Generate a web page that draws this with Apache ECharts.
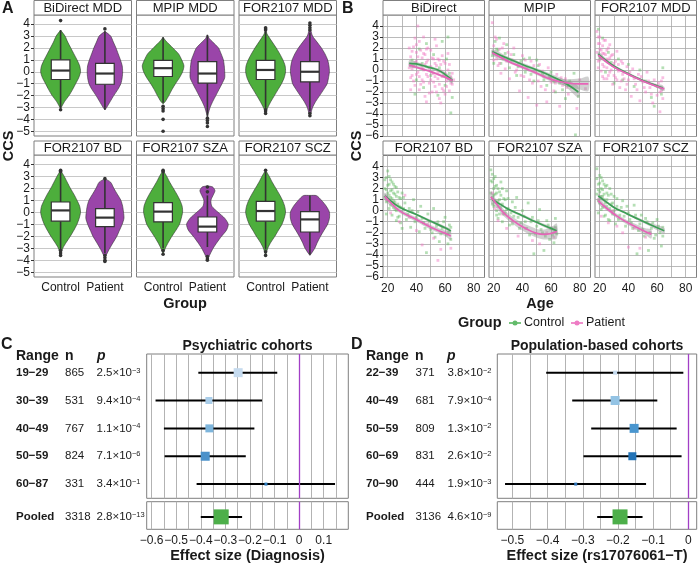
<!DOCTYPE html>
<html><head><meta charset="utf-8">
<script src="https://cdn.jsdelivr.net/npm/echarts@6/dist/echarts.min.js"></script>
<style>html,body{margin:0;padding:0;background:#fff}#c{width:698px;height:564px}</style>
</head><body><div id="c"></div>
<script>
const FONT = '"Liberation Sans", Arial, sans-serif';

// ---------- DATA ----------
const groups = ['Control', 'Patient'];
const panelsA = ['BiDirect MDD', 'MPIP MDD', 'FOR2107 MDD', 'FOR2107 BD', 'FOR2107 SZA', 'FOR2107 SCZ'];
const panelsB = ['BiDirect', 'MPIP', 'FOR2107 MDD', 'FOR2107 BD', 'FOR2107 SZA', 'FOR2107 SCZ'];
const yTicksA = [-5, -4, -3, -2, -1, 0, 1, 2, 3, 4];
const yTicksB = [-6, -5, -4, -3, -2, -1, 0, 1, 2, 3, 4];
const yLabelsBEven = [-6, -4, -2, 0, 2, 4];
const yLabelsBOdd = [-5, -3, -1, 1, 3];
const xTicksB = [20, 40, 60, 80];
const xGridB = [20, 30, 40, 50, 60, 70, 80];
const xTicksC = [-0.6, -0.5, -0.4, -0.3, -0.2, -0.1, 0, 0.1];
const xGridC = [-0.6, -0.55, -0.5, -0.45, -0.4, -0.35, -0.3, -0.25, -0.2, -0.15, -0.1, -0.05, 0, 0.05, 0.1, 0.15];
const xTicksD = [-0.5, -0.4, -0.3, -0.2, -0.1, 0];
const xGridD = [-0.5, -0.45, -0.4, -0.35, -0.3, -0.25, -0.2, -0.15, -0.1, -0.05, 0];

// violin density profiles: [CCS, half-width]
const violinControl = [
  [[3.5,0],[3,0.1],[2.5,0.16],[2,0.23],[1.5,0.3],[1,0.37],[0.5,0.43],[0,0.45],[-0.5,0.41],[-1,0.34],[-1.5,0.27],[-2,0.19],[-2.5,0.09],[-3.1,0]],
  [[2.9,0],[2.6,0.06],[2,0.22],[1.5,0.35],[1,0.42],[0.5,0.47],[0,0.44],[-0.5,0.37],[-1,0.28],[-1.5,0.2],[-2,0.13],[-2.5,0.05],[-2.7,0]],
  [[3.6,0],[3.2,0.03],[3,0.06],[2.5,0.15],[2,0.24],[1.5,0.32],[1,0.39],[0.5,0.44],[0,0.45],[-0.5,0.42],[-1,0.36],[-1.5,0.28],[-2,0.2],[-2.5,0.12],[-3,0.05],[-3.4,0]],
  [[3.5,0],[3,0.08],[2.5,0.15],[2,0.22],[1.5,0.3],[1,0.37],[0.5,0.43],[0,0.45],[-0.5,0.42],[-1,0.37],[-1.5,0.3],[-2,0.22],[-2.5,0.13],[-3,0.05],[-3.6,0]],
  [[3.5,0],[3,0.08],[2.5,0.15],[2,0.23],[1.5,0.31],[1,0.38],[0.5,0.43],[0,0.44],[-0.5,0.41],[-1,0.37],[-1.5,0.29],[-2,0.2],[-2.5,0.12],[-3,0.05],[-3.5,0]],
  [[3.5,0],[3,0.08],[2.5,0.15],[2,0.23],[1.5,0.31],[1,0.38],[0.5,0.43],[0,0.45],[-0.5,0.42],[-1,0.37],[-1.5,0.29],[-2,0.21],[-2.5,0.12],[-3,0.05],[-3.6,0]]
];
const violinPatient = [
  [[3.4,0],[3,0.13],[2.5,0.19],[2,0.25],[1.5,0.3],[1,0.35],[0.5,0.39],[0,0.4],[-0.5,0.39],[-1,0.36],[-1.5,0.29],[-2,0.2],[-2.5,0.12],[-3,0.04],[-3.2,0]],
  [[3.1,0],[2.8,0.04],[2.5,0.12],[2,0.25],[1.5,0.31],[1,0.36],[0.5,0.38],[0,0.39],[-0.5,0.39],[-1,0.33],[-1.5,0.26],[-2,0.19],[-2.5,0.12],[-3,0.06],[-3.5,0.02],[-3.8,0]],
  [[4.0,0],[3.5,0.02],[3,0.06],[2.5,0.16],[2,0.26],[1.5,0.34],[1,0.4],[0.5,0.43],[0,0.44],[-0.5,0.42],[-1,0.39],[-1.5,0.31],[-2,0.22],[-2.5,0.13],[-3,0.06],[-3.5,0.02],[-3.7,0]],
  [[2.8,0],[2.5,0.13],[2,0.2],[1.5,0.28],[1,0.36],[0.5,0.4],[0,0.42],[-0.5,0.43],[-1,0.39],[-1.5,0.33],[-2,0.27],[-2.5,0.19],[-3,0.11],[-3.5,0.04],[-3.8,0]],
  [[2.2,0],[2.1,0.12],[1.8,0.17],[1.5,0.14],[1,0.08],[0.5,0.1],[0,0.24],[-0.5,0.39],[-1,0.47],[-1.5,0.43],[-2,0.32],[-2.5,0.22],[-3,0.13],[-3.5,0.06],[-4.0,0]],
  [[1.4,0],[1.38,0.15],[1,0.26],[0.5,0.37],[0,0.44],[-0.5,0.44],[-1,0.4],[-1.5,0.32],[-2,0.24],[-2.5,0.17],[-3,0.11],[-3.4,0.04],[-3.6,0]]
];
// box stats: [lower whisker, Q1, median, Q3, upper whisker]
const boxControl = [[-3.1,-0.65,0.1,1.0,3.5],[-2.6,-0.4,0.3,0.95,2.9],[-3.1,-0.65,0.15,0.95,3.4],[-3.1,-0.75,0.15,0.85,3.3],[-3.0,-0.8,0.05,0.8,3.3],[-3.1,-0.75,0.1,0.9,3.4]];
const boxPatient = [[-3.2,-1.05,-0.15,0.7,3.4],[-3.7,-0.95,-0.15,0.85,3.1],[-3.3,-0.85,0.0,0.85,3.3],[-3.4,-1.2,-0.45,0.3,2.7],[-2.9,-1.65,-1.2,-0.4,1.4],[-3.55,-1.65,-0.6,0.05,1.4]];
const outlierControl = [[4.3,-3.2],[-2.9,-3.1,-3.3,-4.0,-5.0],[3.5,3.6,3.7,-3.2,-3.3,-3.5],[3.4,3.5,-3.2,-3.4,-3.6],[3.4,3.5,-3.2,-3.5],[3.5,-3.3,-3.6]];
const outlierPatient = [[3.6],[-3.9,-4.1,-4.3,-4.6],[3.5,3.7,3.9,4.1,-3.5,-3.7],[2.8,-3.6,-3.8,-4.0,-4.1],[1.7,2.1,-3.7,-3.9,-4.0],[]];

// panel B: [age, CCS] points (estimated clouds)
const scatterControl = [
  [[37,0.9],[40,-0.9],[42,1.9],[45,-1.6],[47,2.4],[50,-0.5],[52,1.4],[55,-2.3],[58,2.6],[60,-1.4],[62,3.0],[63,-0.3],[64,-3.9],[65,-2.5],[61,1.0],[56,0.2],[44,0.6],[39,-2.2]],
  [[19,1.3],[21,2.6],[23,1.8],[25,0.6],[27,1.0],[29,2.3],[31,0.2],[34,1.4],[36,-0.5],[39,0.8],[42,-0.2],[45,1.1],[48,-1.0],[51,0.4],[54,-0.4],[57,-1.4],[60,-0.2],[63,-2.0],[66,-1.2],[70,-2.6],[73,-1.0],[77,-5.9],[79,-2.4],[76,-0.3],
   [20,0.6],[22,1.9],[24,2.9],[28,1.5],[32,0.9],[37,0.3],[41,1.0],[46,-0.4],[50,0.9],[55,-0.9],[59,-0.7],[62,-1.1],[68,-1.8],[72,-1.4]],
  [[19,3.7],[20,1.0],[22,2.9],[24,-0.2],[26,1.6],[28,0.7],[30,-1.2],[33,1.0],[36,-0.9],[40,0.5],[44,-1.5],[48,0.0],[52,-1.0],[56,-2.5],[60,-1.5],[63,-2.2],[64,0.2],[58,-3.3]],
  [[18,2.0],[19,3.0],[19,0.8],[20,1.6],[20,3.6],[21,2.4],[21,0.2],[22,1.2],[22,2.8],[23,-0.4],[23,1.9],[24,0.9],[24,2.4],[25,0.1],[25,1.5],[26,-0.9],[26,2.1],[27,0.6],[28,1.2],[28,-0.5],[29,0.3],[30,1.6],[30,-1.6],[32,0.7],[33,-0.8],[35,0.2],[36,-1.5],[38,1.0],[40,-0.6],[42,-1.9],[43,0.4],[45,-1.1],[47,-3.8],[48,-0.3],[50,-1.7],[52,0.2],[53,-2.4],[55,-1.0],[56,-2.8],[58,-1.6],[60,-0.6],[61,-2.2],[62,-3.0],[63,-1.3],[64,-2.6],
   [18,1.2],[18,2.8],[19,1.9],[19,-0.3],[20,2.3],[20,0.9],[21,1.4],[21,3.1],[22,0.5],[22,1.8],[23,1.1],[23,2.6],[24,0.3],[24,1.6],[25,0.8],[25,2.2],[26,1.3],[26,0.0],[27,1.7],[27,-0.6],[28,0.4],[29,1.1],[29,-1.1],[31,0.2],[31,1.2],[34,-0.3],[37,0.0],[39,-1.0],[41,-0.1],[44,-0.7],[46,-1.6],[49,-1.0],[51,-2.0],[54,-1.4],[57,-2.1],[59,-1.0],[62,-2.0],[64,-1.5]],
  [[18,3.7],[19,2.6],[19,1.2],[20,0.4],[20,2.0],[21,3.1],[21,1.5],[22,0.0],[22,2.3],[23,0.9],[23,-0.7],[24,1.7],[25,0.3],[25,2.6],[26,-1.0],[27,1.1],[28,-0.2],[29,1.8],[30,0.2],[31,-1.3],[33,0.8],[34,-0.5],[36,1.2],[38,-1.6],[40,0.0],[42,-1.0],[44,0.7],[45,-2.2],[47,-0.6],[48,-3.9],[50,-1.4],[52,0.1],[54,-2.0],[55,-3.6],[57,-0.9],[59,-2.6],[60,-1.6],[62,-2.9],[63,-0.7],[64,-2.1],
   [18,1.6],[18,2.7],[19,0.6],[19,3.3],[20,1.4],[20,2.9],[21,0.8],[21,2.2],[22,1.6],[22,-0.4],[23,2.0],[23,0.4],[24,1.0],[24,-0.3],[25,1.4],[26,0.6],[26,2.0],[27,-0.3],[28,1.0],[29,0.1],[30,1.1],[32,-0.2],[33,-1.2],[35,0.3],[37,-0.6],[39,-1.1],[41,-0.5],[43,-1.6],[46,-1.0],[49,-2.1],[51,-0.9],[53,-1.7],[56,-2.3],[58,-1.3],[61,-2.2],[63,-1.5]],
  [[18,3.8],[19,2.4],[19,0.9],[20,1.7],[20,3.2],[21,0.1],[21,2.0],[22,1.3],[22,2.7],[23,-0.5],[23,1.0],[24,2.2],[25,0.4],[25,1.6],[26,-0.8],[27,2.0],[28,0.6],[29,-0.3],[30,1.3],[31,-1.2],[32,0.4],[34,-0.4],[36,0.9],[38,-1.4],[40,-0.2],[42,-1.1],[44,0.5],[46,-3.9],[47,-1.8],[49,-0.4],[51,-2.3],[53,-1.0],[54,-3.6],[56,-1.6],[58,-2.5],[60,-0.8],[62,-2.0],[63,-3.2],[64,-1.5],
   [18,1.5],[18,2.9],[19,1.9],[19,-0.2],[20,0.7],[20,2.5],[21,1.3],[21,3.0],[22,0.3],[22,1.9],[23,2.4],[23,1.5],[24,0.7],[24,-0.4],[25,2.3],[25,1.0],[26,1.4],[27,0.2],[27,-0.9],[28,1.5],[29,0.7],[30,0.0],[32,1.1],[33,-0.8],[35,0.3],[37,-0.5],[39,0.4],[41,-0.8],[43,-1.6],[45,-0.4],[48,-1.2],[50,-1.7],[52,-0.7],[55,-2.0],[57,-1.1],[59,-2.2],[61,-1.4],[64,-2.3]]
];
const scatterPatient = [
  [[36,1.2],[37,-0.5],[38,2.1],[38,0.3],[39,-1.4],[40,1.6],[40,0.8],[41,-0.2],[42,2.6],[42,-1.8],[43,0.5],[44,1.1],[44,-0.9],[45,3.0],[45,0.0],[46,-2.4],[46,1.4],[47,0.7],[48,-0.6],[48,2.0],[49,-1.2],[50,0.3],[50,1.8],[51,-2.0],[52,-0.3],[52,1.0],[53,-1.5],[54,0.4],[54,2.2],[55,-0.8],[56,-2.6],[56,0.9],[57,-0.1],[58,-1.7],[58,1.3],[59,-0.5],[60,-2.2],[60,0.6],[61,-1.0],[62,0.0],[63,-1.9],[64,-0.6],[65,-1.3],[36,-1.8],[39,2.9],[41,4.0],[47,-2.9],[53,2.8],[57,-3.0],[62,1.5],
   [35,0.2],[35,2.0],[36,-0.7],[37,1.7],[37,0.1],[38,-1.0],[39,0.7],[40,-0.4],[40,2.3],[41,1.2],[42,-0.6],[43,1.8],[43,-1.3],[44,0.2],[45,1.5],[45,-1.1],[46,0.5],[47,-0.4],[47,1.9],[48,0.9],[49,0.1],[49,-2.1],[50,-0.9],[51,1.1],[51,-0.3],[52,-1.1],[53,0.6],[53,-0.6],[54,-2.0],[55,1.0],[55,-0.2],[56,-1.3],[57,0.5],[58,-0.6],[59,0.8],[59,-1.9],[60,-0.3],[61,-1.5],[62,-0.8],[63,0.5],[64,-1.2],[65,-0.3],[66,-0.9]],
  [[19,4.3],[20,2.2],[20,0.9],[21,1.5],[22,2.8],[23,0.4],[24,1.9],[25,-0.3],[26,1.2],[27,2.4],[28,0.1],[30,1.6],[31,-0.8],[33,0.9],[34,2.0],[35,-0.2],[37,0.6],[38,-1.9],[40,1.3],[41,-0.6],[43,0.2],[44,-2.5],[46,0.8],[47,-1.2],[49,-0.1],[50,-3.2],[52,0.5],[53,-1.5],[55,-0.6],[57,-2.9],[58,0.2],[60,-1.1],[62,-1.9],[64,-0.4],[66,-3.3],[68,-1.4],[70,-0.8],[72,-2.2],[74,-1.6],[78,-3.5],[80,-0.9],[84,-1.7],
   [21,3.0],[22,1.0],[24,0.6],[26,2.0],[29,0.8],[32,1.4],[36,0.0],[39,-0.5],[42,0.9],[45,-0.9],[48,0.4],[51,-1.0],[54,-0.1],[56,-1.8],[59,-0.6],[63,-1.2],[67,-0.7],[71,-1.6]],
  [[18,3.5],[19,2.4],[19,0.8],[20,1.9],[20,3.0],[21,1.2],[21,-0.1],[22,2.2],[22,0.5],[23,1.5],[23,-0.8],[24,2.7],[24,0.9],[25,0.2],[25,1.8],[26,-0.5],[27,1.1],[27,2.3],[28,0.0],[29,-1.3],[29,1.4],[30,0.6],[31,-0.7],[32,1.7],[33,-0.1],[34,-1.6],[35,0.8],[36,-0.4],[38,-1.8],[39,0.3],[40,-0.9],[42,-2.4],[43,0.1],[45,-1.3],[47,-0.4],[48,-2.8],[50,-1.1],[52,-2.0],[53,-0.2],[55,-1.6],[57,-3.0],[58,-0.9],[60,-2.3],[61,-1.2],[62,-3.8],[63,-1.9],[64,-0.7],[64,-2.6],
   [18,1.6],[19,0.2],[19,3.0],[20,0.9],[20,2.4],[21,1.8],[22,-0.6],[22,1.5],[23,0.3],[23,2.7],[24,1.4],[25,-0.8],[25,1.0],[26,0.9],[26,2.0],[27,-0.2],[28,1.3],[29,0.4],[30,-0.5],[31,0.8],[32,-0.9],[33,0.5],[35,-1.0],[36,0.6],[37,-0.8],[39,-1.3],[41,-0.2],[44,-0.8],[46,-1.8],[49,-0.6],[51,-1.6],[54,-1.0],[56,-2.2],[59,-1.4],[62,-2.0],[63,-1.0]],
  [[19,1.0],[22,-0.2],[25,0.6],[28,-1.0],[32,1.4],[35,-0.6],[40,-1.8],[44,-3.1],[48,-1.2],[52,-2.5],[55,-4.5],[57,-3.5],[60,-2.0],[64,-3.4]],
  [[19,1.6],[21,0.2],[23,-0.9],[26,-0.3],[29,-1.6],[33,-1.0],[37,-2.3],[42,-1.6],[47,-2.7],[52,-3.0],[57,-2.0],[62,-2.4]],
  [[19,1.0],[21,-0.5],[23,0.4],[26,-1.1],[29,0.0],[32,-1.4],[36,-2.0],[40,-3.3],[44,-1.6],[48,-3.4],[52,-2.4],[55,-2.0]]
];
// fitted trends: [age, fit, band half-width]
const trendControl = [
  [[35,0.6,0.3],[40,0.55,0.2],[45,0.38,0.15],[50,0.2,0.15],[55,0.0,0.15],[60,-0.4,0.2],[65,-0.95,0.3]],
  [[19,1.65,0.25],[30,1.05,0.15],[40,0.5,0.15],[50,0.0,0.15],[60,-0.55,0.2],[70,-1.2,0.3],[79,-2.0,0.5]],
  [[19,1.45,0.25],[25,0.8,0.15],[30,0.35,0.12],[40,-0.35,0.12],[50,-0.95,0.12],[60,-1.45,0.15],[64,-1.65,0.25]],
  [[18,1.35,0.2],[25,0.6,0.1],[30,0.2,0.1],[40,-0.35,0.1],[50,-0.95,0.12],[60,-1.55,0.15],[64,-1.85,0.2]],
  [[19,1.0,0.2],[25,0.55,0.12],[30,0.15,0.1],[40,-0.45,0.12],[50,-1.05,0.12],[60,-1.6,0.2],[64,-1.82,0.3]],
  [[19,1.35,0.2],[25,0.75,0.12],[30,0.3,0.1],[37,-0.15,0.1],[45,-0.65,0.12],[55,-1.25,0.15],[65,-1.82,0.25]]
];
const trendPatient = [
  [[35,0.45,0.2],[40,0.25,0.12],[45,0.05,0.1],[50,-0.15,0.1],[55,-0.4,0.1],[60,-0.65,0.12],[65,-0.95,0.2]],
  [[19,1.57,0.25],[30,0.8,0.15],[40,0.25,0.15],[50,-0.3,0.15],[60,-0.85,0.2],[70,-1.15,0.3],[80,-1.27,0.5],[86,-1.27,0.65]],
  [[19,1.35,0.2],[25,0.7,0.12],[30,0.25,0.1],[40,-0.4,0.1],[50,-1.0,0.1],[60,-1.5,0.12],[65,-1.72,0.2]],
  [[18,1.3,0.35],[25,0.35,0.2],[30,-0.15,0.2],[40,-0.8,0.2],[50,-1.5,0.2],[60,-2.05,0.25],[64,-2.3,0.35]],
  [[18,1.25,0.5],[22,0.6,0.35],[27,-0.2,0.3],[33,-0.85,0.3],[40,-1.45,0.35],[50,-2.05,0.4],[55,-2.15,0.45],[60,-2.05,0.55],[64,-1.85,0.7]],
  [[19,0.9,0.3],[25,0.2,0.2],[30,-0.3,0.2],[37,-0.9,0.2],[45,-1.45,0.25],[52,-1.9,0.3],[56,-2.12,0.4]]
];

// panel C: psychiatric cohorts
const cRanges = ['19−29', '30−39', '40−49', '50−59', '60−87'];
const cN = [865, 531, 767, 824, 331];
const cPMant = ['2.5', '9.4', '1.1', '7.1', '3.4'];
const cPExp = [-3, -4, -4, -6, -1];
const cEst = [-0.248, -0.367, -0.365, -0.382, -0.135];
const cLo = [-0.41, -0.584, -0.55, -0.547, -0.417];
const cHi = [-0.089, -0.151, -0.182, -0.217, 0.146];
const cWeight = [0.9, 0.7, 0.8, 0.9, 0.3];
const cPooled = [-0.317, -0.40, -0.232, 1.5];   // est, lo, hi, weight
const cPooledN = 3318, cPooledPMant = '2.8', cPooledPExp = -13;
// panel D: population-based cohorts
const dRanges = ['22−39', '40−49', '50−59', '60−69', '70−90'];
const dN = [371, 681, 809, 831, 444];
const dPMant = ['3.8', '7.9', '1.3', '2.6', '1.9'];
const dPExp = [-2, -4, -2, -2, -3];
const dEst = [-0.208, -0.208, -0.154, -0.159, -0.32];
const dLo = [-0.404, -0.33, -0.276, -0.298, -0.521];
const dHi = [-0.014, -0.088, -0.033, -0.019, -0.12];
const dWeight = [0.4, 0.9, 0.9, 0.8, 0.3];
const dPooled = [-0.194, -0.259, -0.13, 1.5];
const dPooledN = 3136, dPooledPMant = '4.6', dPooledPExp = -9;

// ---------- STYLE ----------
const violinFill = ['#4dae3c', '#9a45a9'];
const ptColor = ['rgba(100,188,100,0.6)', 'rgba(240,120,195,0.6)'];
const legColor = ['#62bb6a', '#ee7cc4'];
const lineColor = ['#3c9f55', '#e763b8'];
const cColors = ['#c6dbef', '#a9cde9', '#7db5dc', '#4a91ca', '#2e7ebf'];
const dColors = ['#c6dbef', '#93c3e4', '#4a96cf', '#2373b6', '#2e74b8'];
const pooledColor = '#4daf4a';
const zeroColor = '#a23fc6';
const txt = '#1a1a1a';
const minus = v => String(Math.round(v * 100) / 100).replace('-', '−');

const grids = [], xAxes = [], yAxes = [], series = [], graphics = [];
function addGrid(l, t, w, h) {
  grids.push({ left: l, top: t, width: w, height: h, show: true, borderColor: '#7f7f7f', borderWidth: 1, backgroundColor: '#fff' });
  return grids.length - 1;
}
const lbl = { fontFamily: FONT, fontSize: 12, color: txt };
const ylbl = { fontFamily: FONT, fontSize: 12, color: txt, showMinLabel: true, showMaxLabel: true, hideOverlap: false };

// ---------- PANEL A ----------
const Ax = [34, 136.5, 239], Aw = 97.5, Ay = [15, 155], Ah = [121, 122];
function renderViolin(params, api) {
  const p = api.value(2), g = api.value(3), xc = api.value(0);
  const prof = (g === 0 ? violinControl : violinPatient)[p];
  const b = (g === 0 ? boxControl : boxPatient)[p];
  const outs = (g === 0 ? outlierControl : outlierPatient)[p];
  const pts = [];
  prof.forEach(d => pts.push(api.coord([xc + d[1], d[0]])));
  for (let k = prof.length - 1; k >= 0; k--) pts.push(api.coord([xc - prof[k][1], prof[k][0]]));
  const ch = [{ type: 'polygon', shape: { points: pts, smooth: 0.25 }, style: { fill: violinFill[g], stroke: '#333', lineWidth: 0.6 } }];
  const t = api.coord([xc, b[4]]), q3 = api.coord([xc, b[3]]), q1 = api.coord([xc, b[1]]), lo = api.coord([xc, b[0]]);
  ch.push({ type: 'line', shape: { x1: t[0], y1: t[1], x2: q3[0], y2: q3[1] }, style: { stroke: '#333', lineWidth: 1.6 } });
  ch.push({ type: 'line', shape: { x1: q1[0], y1: q1[1], x2: lo[0], y2: lo[1] }, style: { stroke: '#333', lineWidth: 1.6 } });
  const a1 = api.coord([xc - 0.21, b[3]]), a2 = api.coord([xc + 0.21, b[1]]);
  ch.push({ type: 'rect', shape: { x: a1[0], y: a1[1], width: a2[0] - a1[0], height: a2[1] - a1[1] }, style: { fill: '#fff', stroke: '#333', lineWidth: 1.2 } });
  const m1 = api.coord([xc - 0.21, b[2]]), m2 = api.coord([xc + 0.21, b[2]]);
  ch.push({ type: 'line', shape: { x1: m1[0], y1: m1[1], x2: m2[0], y2: m2[1] }, style: { stroke: '#333', lineWidth: 2.2 } });
  outs.forEach(o => { const c = api.coord([xc, o]); ch.push({ type: 'circle', shape: { cx: c[0], cy: c[1], r: 1.8 }, style: { fill: '#333' } }); });
  return { type: 'group', children: ch };
}
panelsA.forEach((name, i) => {
  const row = Math.floor(i / 3), col = i % 3;
  const g = addGrid(Ax[col], Ay[row], Aw, Ah[row]);
  xAxes.push({ gridIndex: g, type: 'value', min: 0.4, max: 2.6, axisLine: { show: false }, splitLine: { show: false },
    axisTick: { show: row === 1, customValues: [1, 2], length: 3, lineStyle: { color: '#333' } },
    axisLabel: { show: row === 1, customValues: [1, 2], formatter: v => groups[Math.round(v) - 1], margin: 5, ...lbl } });
  yAxes.push({ gridIndex: g, type: 'value', min: -5.4, max: 4.77, axisLine: { show: false },
    axisTick: { show: col === 0, customValues: yTicksA, length: 3, lineStyle: { color: '#333' } },
    axisLabel: { show: col === 0, customValues: yTicksA, formatter: minus, margin: 4, ...ylbl },
    splitLine: { show: true, lineStyle: { color: '#c8c8c8', width: 1 } } });
  series.push({ type: 'custom', xAxisIndex: g, yAxisIndex: yAxes.length - 1, renderItem: renderViolin, encode: { x: 0, y: 1 },
    data: [[1, boxControl[i][2], i, 0], [2, boxPatient[i][2], i, 1]], z: 3, silent: true });
  const sy = row === 0 ? 0.5 : 141;
  graphics.push({ type: 'rect', shape: { x: Ax[col], y: sy, width: Aw, height: (row === 0 ? 14.5 : 14) }, style: { fill: '#fff', stroke: '#7f7f7f', lineWidth: 1 } });
  graphics.push({ type: 'text', x: Ax[col] + Aw / 2, y: sy + 7.5, style: { text: name, font: '13px ' + FONT, fill: txt, align: 'center', verticalAlign: 'middle' } });
});

// ---------- PANEL B ----------
const Bx = [383, 489, 595], Bw = 101.5, By = [15, 155.5], Bh = [121.5, 122];
function makeBand(tr) {
  return function (params, api) {
    const up = tr.map(d => api.coord([d[0], d[1] + d[2]]));
    const dn = tr.map(d => api.coord([d[0], d[1] - d[2]])).reverse();
    return { type: 'polygon', shape: { points: up.concat(dn), smooth: 0.3 }, style: { fill: 'rgba(150,150,150,0.45)' } };
  };
}
panelsB.forEach((name, i) => {
  const row = Math.floor(i / 3), col = i % 3;
  const g = addGrid(Bx[col], By[row], Bw, Bh[row]);
  const xi = xAxes.length;
  xAxes.push({ gridIndex: g, type: 'value', min: 16.7, max: 87.5, axisLine: { show: false },
    axisTick: { show: false, customValues: xGridB },
    axisLabel: { show: row === 1, customValues: xTicksB, margin: 5, ...lbl },
    splitLine: { show: true, lineStyle: { color: '#a8a8a8', width: 0.8 } } });
  const yi = yAxes.length;
  yAxes.push({ gridIndex: g, type: 'value', min: -6.05, max: 5.0, axisLine: { show: false },
    axisTick: { show: col === 0, customValues: yTicksB, length: 3, lineStyle: { color: '#333' } },
    axisLabel: { show: col === 0, customValues: yLabelsBEven, formatter: minus, margin: 4, ...ylbl },
    splitLine: { show: true, lineStyle: { color: '#a8a8a8', width: 0.8 } } });
  if (col === 0) {
    // second label layer so neighbouring labels are not dropped as overlapping
    yAxes.push({ gridIndex: g, type: 'value', position: 'left', min: -6.05, max: 5.0, axisLine: { show: false },
      axisTick: { show: false, customValues: yTicksB }, splitLine: { show: false },
      axisLabel: { show: true, customValues: yLabelsBOdd, formatter: minus, margin: 4, ...ylbl } });
  }
  [scatterControl, scatterPatient].forEach((arr, k) => {
    series.push({ type: 'scatter', xAxisIndex: xi, yAxisIndex: yi, data: arr[i], symbol: 'rect', symbolSize: 2.8,
      itemStyle: { color: ptColor[k] }, silent: true, z: 1 });
  });
  [trendControl, trendPatient].forEach((arr, k) => {
    const tr = arr[i];
    series.push({ type: 'custom', xAxisIndex: xi, yAxisIndex: yi, encode: { x: 0, y: 1 }, data: [[tr[0][0], tr[0][1]]],
      renderItem: makeBand(tr), silent: true, z: 2 });
  });
  [trendControl, trendPatient].forEach((arr, k) => {
    series.push({ type: 'line', xAxisIndex: xi, yAxisIndex: yi, data: arr[i].map(d => [d[0], d[1]]), smooth: true,
      symbol: 'none', lineStyle: { color: lineColor[k], width: 1.7 }, silent: true, z: 4 });
  });
  const sy = row === 0 ? 0.5 : 141;
  graphics.push({ type: 'rect', shape: { x: Bx[col], y: sy, width: Bw, height: (row === 0 ? 14.5 : 14) }, style: { fill: '#fff', stroke: '#7f7f7f', lineWidth: 1 } });
  graphics.push({ type: 'text', x: Bx[col] + Bw / 2, y: sy + 7.5, style: { text: name, font: '13px ' + FONT, fill: txt, align: 'center', verticalAlign: 'middle' } });
});

// ---------- PANELS C & D ----------
const pRich = { m: { fontSize: 11.5, fontFamily: FONT, fill: txt }, s: { fontSize: 7.5, fontFamily: FONT, fill: txt, verticalAlign: 'top' } };
function rowTexts(xs, y, label, n, pm, pe) {
  return [
    { type: 'text', style: { x: xs[0], y: y, text: label, font: 'bold 11.5px ' + FONT, fill: txt, align: 'left', verticalAlign: 'middle' } },
    { type: 'text', style: { x: xs[1], y: y, text: String(n), font: '11.5px ' + FONT, fill: txt, align: 'left', verticalAlign: 'middle' } },
    { type: 'text', style: { x: xs[2], y: y, text: '{m|' + pm + '×10}{s|' + String(pe).replace('-', '−') + '}', rich: pRich, align: 'left', verticalAlign: 'middle' } }
  ];
}
function forestRow(api, row, est, lo, hi, size, color) {
  const a = api.coord([lo, row]), b = api.coord([hi, row]), c = api.coord([est, row]);
  return [
    { type: 'line', shape: { x1: a[0], y1: a[1], x2: b[0], y2: b[1] }, style: { stroke: '#000', lineWidth: 2 } },
    { type: 'rect', shape: { x: c[0] - size / 2, y: c[1] - size / 2, width: size, height: size }, style: { fill: color } }
  ];
}
function makeForest(ranges, ns, pm, pe, est, lo, hi, w, colors, xs) {
  return function (params, api) {
    const i = api.value(2), row = api.value(1);
    const y = api.coord([0, row])[1];
    return { type: 'group', children: forestRow(api, row, est[i], lo[i], hi[i], w[i] * 10, colors[i]).concat(rowTexts(xs, y, ranges[i], ns[i], pm[i], pe[i])) };
  };
}
function makePooled(p, n, pm, pe, xs) {
  return function (params, api) {
    const row = api.value(1);
    const y = api.coord([0, row])[1];
    return { type: 'group', children: forestRow(api, row, p[0], p[1], p[2], p[3] * 10, pooledColor).concat(rowTexts(xs, y, 'Pooled', n, pm, pe)) };
  };
}
const zeroLine = { silent: true, symbol: 'none', label: { show: false }, lineStyle: { color: zeroColor, width: 1.3, type: 'solid' }, data: [{ xAxis: 0 }] };
function forestPanel(left, width, xmin, xmax, grid, ticks, d, pooled, pooledN, pooledPM, pooledPE, xs) {
  const g1 = addGrid(left, 354, width, 144.3);
  const x1 = xAxes.length;
  xAxes.push({ gridIndex: g1, type: 'value', min: xmin, max: xmax, axisLine: { show: false }, axisTick: { show: false, customValues: grid },
    axisLabel: { show: false, customValues: ticks }, splitLine: { show: true, lineStyle: { color: '#b3b3b3', width: 1 } } });
  const y1 = yAxes.length;
  yAxes.push({ gridIndex: g1, type: 'value', min: 0.33, max: 5.51, inverse: true, show: false, splitLine: { show: false } });
  series.push({ type: 'custom', xAxisIndex: x1, yAxisIndex: y1, encode: { x: 0, y: 1 }, silent: true, z: 3,
    renderItem: makeForest(...d, xs), data: d[4].map((v, i) => [v, i + 1, i]), markLine: zeroLine });
  const g2 = addGrid(left, 501.7, width, 27.6);
  const x2 = xAxes.length;
  xAxes.push({ gridIndex: g2, type: 'value', min: xmin, max: xmax, axisLine: { show: false }, axisTick: { show: false, customValues: grid },
    axisLabel: { show: true, customValues: ticks, formatter: minus, margin: 5, showMinLabel: true, showMaxLabel: true, ...lbl }, splitLine: { show: true, lineStyle: { color: '#b3b3b3', width: 1 } } });
  const y2 = yAxes.length;
  yAxes.push({ gridIndex: g2, type: 'value', min: 0, max: 1, inverse: true, show: false, splitLine: { show: false } });
  series.push({ type: 'custom', xAxisIndex: x2, yAxisIndex: y2, encode: { x: 0, y: 1 }, silent: true, z: 3,
    renderItem: makePooled(pooled, pooledN, pooledPM, pooledPE, xs), data: [[pooled[0], 0.55, 0]], markLine: zeroLine });
}
forestPanel(146.7, 201.6, -0.62, 0.2, xGridC, xTicksC, [cRanges, cN, cPMant, cPExp, cEst, cLo, cHi, cWeight, cColors], cPooled, cPooledN, cPooledPMant, cPooledPExp, [16, 65, 96.5]);
forestPanel(497.3, 199.4, -0.543, 0.024, xGridD, xTicksD, [dRanges, dN, dPMant, dPExp, dEst, dLo, dHi, dWeight, dColors], dPooled, dPooledN, dPooledPMant, dPooledPExp, [366, 415.5, 447.5]);

// ---------- TEXT ----------
function T(x, y, text, font, align, extra) {
  graphics.push(Object.assign({ type: 'text', x: x, y: y, style: { text: text, font: font, fill: txt, align: align || 'left', verticalAlign: 'middle' } }, extra || {}));
}
const bold16 = 'bold 16px ' + FONT, bold14 = 'bold 14.5px ' + FONT;
T(2, 9, 'A', bold16); T(342, 9, 'B', bold16); T(1, 345, 'C', bold16); T(351, 345, 'D', bold16);
T(9, 146, 'CCS', bold14, 'center', { rotation: Math.PI / 2 });
T(357, 146, 'CCS', bold14, 'center', { rotation: Math.PI / 2 });
T(185, 304, 'Group', bold14, 'center');
T(540, 304, 'Age', bold14, 'center');
T(458, 323, 'Group', bold14, 'left');
[[509, 'Control', 0], [571, 'Patient', 1]].forEach(([x, t, k]) => {
  graphics.push({ type: 'line', shape: { x1: x, y1: 323, x2: x + 12, y2: 323 }, style: { stroke: legColor[k], lineWidth: 1.7 } });
  graphics.push({ type: 'circle', shape: { cx: x + 6, cy: 323, r: 2.5 }, style: { fill: legColor[k] } });
  T(x + 15, 323, t, '12.5px ' + FONT, 'left');
});
T(247.5, 346, 'Psychiatric cohorts', 'bold 14px ' + FONT, 'center');
T(597, 346, 'Population-based cohorts', 'bold 14px ' + FONT, 'center');
[[16, 65, 97], [366, 415, 447]].forEach(xs => {
  T(xs[0], 356.5, 'Range', 'bold 14px ' + FONT);
  T(xs[1], 356.5, 'n', 'bold 14px ' + FONT);
  T(xs[2], 356.5, 'p', 'italic bold 14px ' + FONT);
});
T(247.5, 556, 'Effect size (Diagnosis)', bold14, 'center');
T(597, 556, 'Effect size (rs17076061−T)', bold14, 'center');

const chart = echarts.init(document.getElementById('c'), null, { renderer: 'canvas' });
chart.setOption({ animation: false, backgroundColor: '#fff', textStyle: { fontFamily: FONT },
  grid: grids, xAxis: xAxes, yAxis: yAxes, series: series, graphic: { elements: graphics } });
</script></body></html>
